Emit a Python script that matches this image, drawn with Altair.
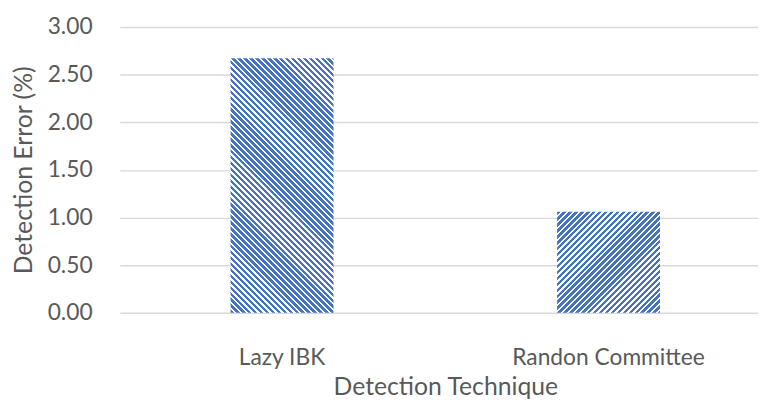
import altair as alt
import pandas as pd

# ---- data ----
techniques = ["Lazy IBK", "Randon Committee"]
errors = [2.67, 1.06]
y_ticks = [0.0, 0.5, 1.0, 1.5, 2.0, 2.5, 3.0]

# ---- style ----
BLUE = "#4472C4"
TEXT = "#595959"
GRID = "#D9D9D9"
FONT = "Lato"
LABEL_FS = 23
TITLE_FS = 25
PLOT_W, PLOT_H = 645, 289
Y_MAX = 3.0
BAR_W = 104
PERIOD = 6.0
BLUE_PART = 3.5


def hatch(value, down):
    """Diagonal hatch fill made from a hard-stop linear gradient."""
    w = BAR_W
    h = value / Y_MAX * PLOT_H
    R = w + h
    k = R / (w * w + h * h)
    stops = []
    i = 0
    while i * PERIOD < R:
        a = i * PERIOD / R
        b = min((i * PERIOD + BLUE_PART) / R, 1.0)
        c = min((i + 1) * PERIOD / R, 1.0)
        stops += [
            alt.GradientStop(offset=a, color=BLUE),
            alt.GradientStop(offset=b, color=BLUE),
            alt.GradientStop(offset=b, color="white"),
            alt.GradientStop(offset=c, color="white"),
        ]
        i += 1
    if down:
        x1, y1, x2, y2 = 0, 1, w * k, 1 - h * k
    else:
        x1, y1, x2, y2 = 0, 0, w * k, h * k
    return alt.LinearGradient(gradient="linear", stops=stops, x1=x1, y1=y1, x2=x2, y2=y2)


df = pd.DataFrame({"technique": techniques, "error": errors})

x_enc = alt.X(
    "technique:N",
    sort=techniques,
    scale=alt.Scale(domain=techniques, paddingInner=0.5, paddingOuter=0.2273, align=0.543),
    axis=alt.Axis(
        title="Detection Technique",
        labelAngle=0,
        labelBaseline="alphabetic",
        labelPadding=52,
        labelFontSize=LABEL_FS,
        labelLimit=500,
        ticks=False,
        domain=False,
        grid=False,
        titleX=329,
        titleY=83,
        titleFontSize=TITLE_FS,
        titleBaseline="alphabetic",
        titleAlign="center",
    ),
)
y_enc = alt.Y(
    "error:Q",
    scale=alt.Scale(domain=[0, Y_MAX], nice=False),
    axis=alt.Axis(
        title="Detection Error (%)",
        values=y_ticks,
        format=".2f",
        ticks=False,
        domain=False,
        grid=True,
        gridColor=GRID,
        gridWidth=1.5,
        labelPadding=28,
        labelBaseline="middle",
        labelFontSize=LABEL_FS,
        titleFontSize=TITLE_FS,
        titleAngle=270,
        titleX=-97,
        titleY=PLOT_H / 2,
        titleAlign="center",
        titleBaseline="middle",
    ),
)

base = alt.Chart(df).encode(x=x_enc, y=y_enc)

layers = []
for i, (t, v) in enumerate(zip(techniques, errors)):
    layers.append(
        base.transform_filter(alt.datum.technique == t).mark_bar(
            size=BAR_W, fill=hatch(v, down=(i == 0))
        )
    )

chart = (
    alt.layer(*layers)
    .properties(
        width=PLOT_W,
        height=PLOT_H,
        autosize=alt.AutoSizeParams(type="none"),
        padding={"left": 113, "top": 17, "right": 0, "bottom": 90},
        background="white",
    )
    .configure_view(strokeWidth=0)
    .configure_axis(
        labelFont=FONT,
        titleFont=FONT,
        labelColor=TEXT,
        titleColor=TEXT,
        titleFontWeight="normal",
    )
)

chart.save("out.html", embed_options={"renderer": "svg", "actions": False})
